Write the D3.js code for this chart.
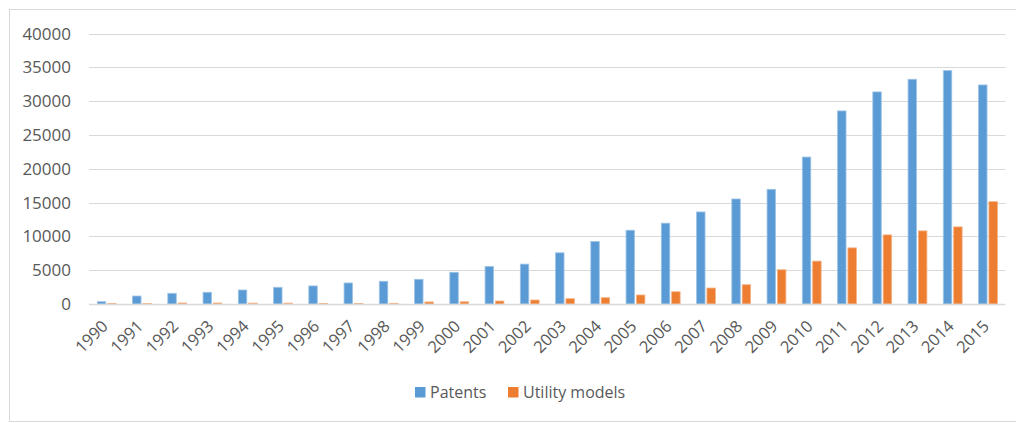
<!DOCTYPE html>
<html>
<head>
<meta charset="utf-8">
<script src="https://cdn.jsdelivr.net/npm/d3@7"></script>
<style>
  html, body { margin: 0; padding: 0; background: #fff; }
  svg { display: block; }
  text { font-family: "Open Sans", sans-serif; fill: #595959; }
</style>
</head>
<body>
<svg id="chart" width="1016" height="423"></svg>
<script>
const years = ["1990","1991","1992","1993","1994","1995","1996","1997","1998","1999","2000","2001","2002","2003","2004","2005","2006","2007","2008","2009","2010","2011","2012","2013","2014","2015"];
const patents = [340, 1180, 1580, 1730, 2070, 2470, 2670, 3110, 3360, 3650, 4690, 5550, 5900, 7570, 9230, 10910, 11950, 13610, 15530, 16960, 21730, 28550, 31360, 33230, 34510, 32390];
const utilityModels = [60, 80, 150, 150, 130, 130, 90, 90, 100, 300, 330, 440, 590, 780, 930, 1330, 1810, 2360, 2850, 5060, 6340, 8300, 10220, 10810, 11400, 15130];
const yTicks = [0, 5000, 10000, 15000, 20000, 25000, 30000, 35000, 40000];
const seriesNames = ["Patents", "Utility models"];
const seriesColors = ["#5b9bd5", "#ed7d31"];
const seriesStroke = ["#9dc3e6", "#f4b183"];

(function () {
const svg = d3.select("#chart");

// frame
svg.append("rect")
  .attr("x", 9.5).attr("y", 9.5)
  .attr("width", 1020).attr("height", 412)
  .attr("fill", "#fff").attr("stroke", "#d9d9d9").attr("stroke-width", 1);

const plotLeft = 89, plotRight = 1005.5, plotTop = 33.5, plotBottom = 304;

const x = d3.scaleBand().domain(years).range([plotLeft, plotRight]).padding(0);
const y = d3.scaleLinear().domain([0, 40000]).range([plotBottom, plotTop]);

// gridlines
svg.append("g")
  .selectAll("line")
  .data(yTicks.filter(d => d !== 0))
  .join("line")
  .attr("x1", plotLeft).attr("x2", plotRight)
  .attr("y1", d => Math.round(y(d)) + 0.5).attr("y2", d => Math.round(y(d)) + 0.5)
  .attr("stroke", "#d9d9d9").attr("stroke-width", 1.2);

// y labels
svg.append("g")
  .selectAll("text")
  .data(yTicks)
  .join("text")
  .attr("x", 71)
  .attr("y", d => y(d))
  .attr("dy", "0.36em")
  .attr("text-anchor", "end")
  .attr("font-size", 17)
  .text(d => d);

const bw = x.bandwidth();
const barW = bw * 0.24;
const offsets = [bw * 0.236, bw * 0.53];

const series = [patents, utilityModels];
series.forEach((vals, si) => {
  svg.append("g")
    .selectAll("rect")
    .data(vals.map((v, i) => ({ year: years[i], v })))
    .join("rect")
    .attr("x", d => x(d.year) + offsets[si])
    .attr("width", barW)
    .attr("y", d => y(d.v))
    .attr("height", d => plotBottom - y(d.v))
    .attr("fill", seriesColors[si])
    .attr("stroke", seriesStroke[si])
    .attr("stroke-width", 0.8);
});

// baseline axis
svg.append("line")
  .attr("x1", plotLeft).attr("x2", plotRight)
  .attr("y1", plotBottom + 0.5).attr("y2", plotBottom + 0.5)
  .attr("stroke", "#d9d9d9").attr("stroke-width", 1.6);

// x labels
svg.append("g")
  .selectAll("text")
  .data(years)
  .join("text")
  .attr("transform", d => `translate(${x(d) + bw / 2 - 2},${plotBottom + 19}) rotate(-45)`)
  .attr("text-anchor", "end")
  .attr("dy", "0.36em")
  .attr("font-size", 16.5)
  .text(d => d);

// legend
const legendX = [415, 508];
seriesNames.forEach((name, i) => {
  svg.append("rect")
    .attr("x", legendX[i]).attr("y", 387)
    .attr("width", 10.5).attr("height", 10.5)
    .attr("fill", seriesColors[i]);
  svg.append("text")
    .attr("x", legendX[i] + 15)
    .attr("y", 392.5)
    .attr("dy", "0.36em")
    .attr("font-size", 16)
    .text(name);
});
})();
</script>
</body>
</html>
